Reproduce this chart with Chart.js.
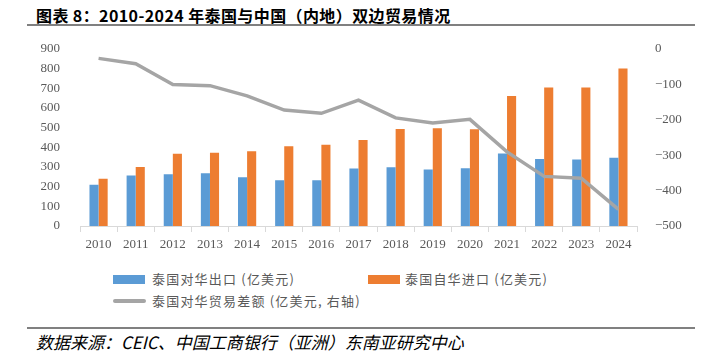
<!DOCTYPE html>
<html>
<head>
<meta charset="utf-8">
<script src="https://cdn.jsdelivr.net/npm/chart.js@4.4.1/dist/chart.umd.min.js"></script>
<style>
  body { margin: 0; width: 705px; height: 360px; background: #fff; position: relative; overflow: hidden; font-family: "Noto Sans CJK SC", sans-serif; }
  .title { position: absolute; left: 36px; top: 3px; font-size: 16px; letter-spacing: 0.4px; font-weight: bold; color: #000; white-space: nowrap; }
  .rule { position: absolute; left: 27px; width: 668px; height: 2px; background: #808080; }
  .source { position: absolute; left: 36px; top: 329px; font-size: 17px; font-style: italic; color: #000; white-space: nowrap; }
  #wrap { position: absolute; left: 0; top: 29px; width: 705px; height: 231px; }
  .lg { position: absolute; font-size: 13px; color: #595959; letter-spacing: 1.2px; white-space: nowrap; line-height: 16px; }
  .sw { position: absolute; }
</style>
</head>
<body>
<div class="title">图表 8：2010-2024 年泰国与中国（内地）双边贸易情况</div>
<div class="rule" style="top:24px"></div>
<div id="wrap"><canvas id="chart"></canvas></div>

<div class="sw" style="left:113px;top:275px;width:32px;height:9px;background:#5B9BD5"></div>
<div class="lg" style="left:152px;top:271px">泰国对华出口 (亿美元)</div>
<div class="sw" style="left:368px;top:275px;width:32px;height:9px;background:#ED7D31"></div>
<div class="lg" style="left:405px;top:271px">泰国自华进口 (亿美元)</div>
<div class="sw" style="left:113px;top:299px;width:33px;height:4px;background:#A5A5A5;border-radius:2px"></div>
<div class="lg" style="left:152px;top:293px">泰国对华贸易差额 (亿美元, 右轴)</div>

<div class="rule" style="top:327px"></div>
<div class="source">数据来源：CEIC、中国工商银行（亚洲）东南亚研究中心</div>

<script>
const years = ["2010", "2011", "2012", "2013", "2014", "2015", "2016", "2017", "2018", "2019", "2020", "2021", "2022", "2023", "2024"];
const exportsToChina = [210, 257, 263, 268, 247, 232, 232, 292, 298, 287, 293, 368, 340, 338, 347];
const importsFromChina = [240, 300, 367, 372, 380, 405, 413, 437, 493, 497, 492, 660, 703, 703, 800];
const tradeBalance = [-27, -42, -101, -104, -133, -173, -182, -145, -195, -209, -199, -291, -360, -365, -453];

const tickFont = { family: "'Liberation Serif', 'Times New Roman', serif", size: 13 };
const tickColor = "#595959";

new Chart(document.getElementById("chart"), {
    type: "bar",
    data: {
        labels: years,
        datasets: [
            {
                type: "line",
                label: "泰国对华贸易差额 (亿美元, 右轴)",
                data: tradeBalance,
                yAxisID: "y1",
                borderColor: "#A5A5A5",
                backgroundColor: "#A5A5A5",
                borderWidth: 3.5,
                pointRadius: 0,
                tension: 0,
                order: 0
            },
            {
                label: "泰国对华出口 (亿美元)",
                data: exportsToChina,
                backgroundColor: "#5B9BD5",
                yAxisID: "y",
                categoryPercentage: 0.49,
                barPercentage: 1,
                order: 1
            },
            {
                label: "泰国自华进口 (亿美元)",
                data: importsFromChina,
                backgroundColor: "#ED7D31",
                yAxisID: "y",
                categoryPercentage: 0.49,
                barPercentage: 1,
                order: 1
            }
        ]
    },
    options: {
        responsive: true,
        maintainAspectRatio: false,
        animation: false,
        layout: { padding: { top: 5, left: 0, right: 0, bottom: 0 } },
        plugins: {
            legend: { display: false },
            tooltip: { enabled: false }
        },
        scales: {
            x: {
                grid: { display: true, drawOnChartArea: false, color: "#D9D9D9", tickLength: 6, offset: true },
                border: { color: "#D9D9D9" },
                ticks: { font: tickFont, color: tickColor, padding: 5, maxRotation: 0 },
                afterFit: (s) => { s.height = 34; }
            },
            y: {
                position: "left",
                min: 0,
                max: 900,
                grid: { display: false },
                border: { display: false },
                ticks: { stepSize: 100, font: tickFont, color: tickColor, padding: 12 },
                afterFit: (s) => { s.width = 80; }
            },
            y1: {
                position: "right",
                min: -500,
                max: 0,
                grid: { display: false },
                border: { display: false },
                ticks: {
                    stepSize: 100,
                    font: tickFont,
                    color: tickColor,
                    padding: 10,
                    callback: (v) => String(v).replace("-", "\u2212")
                },
                afterFit: (s) => { s.width = 68; }
            }
        }
    }
});
</script>
</body>
</html>
